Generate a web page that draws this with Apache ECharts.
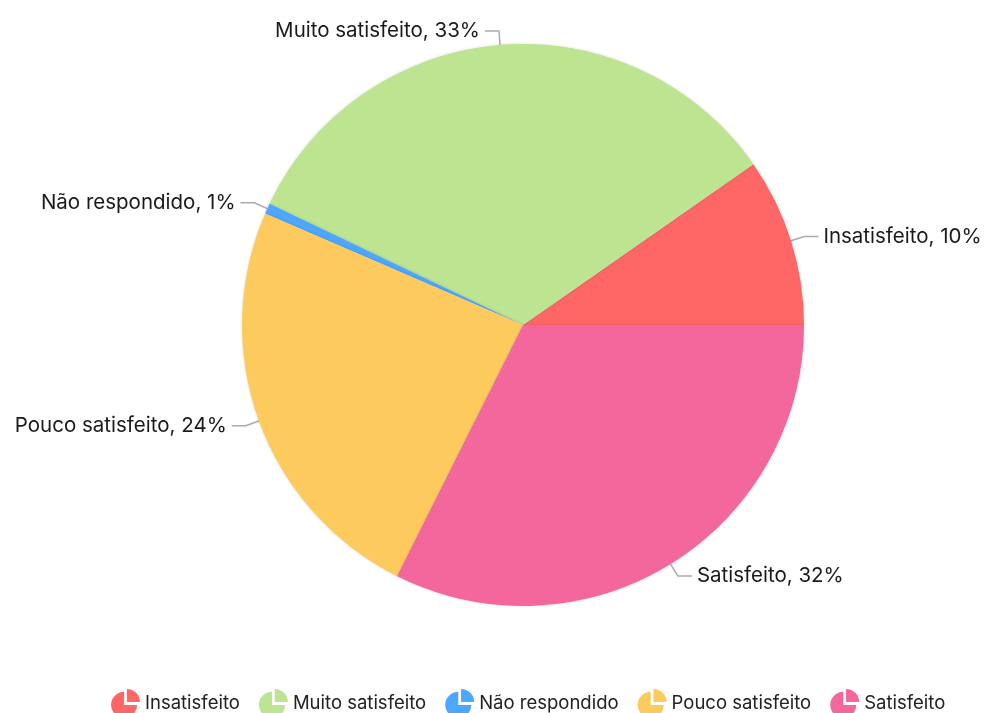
<!DOCTYPE html>
<html>
<head>
<meta charset="utf-8">
<script src="https://cdn.jsdelivr.net/npm/echarts@6/dist/echarts.min.js"></script>
<style>
  html, body { margin: 0; padding: 0; background: #fff; }
  #chart { width: 994px; height: 713px; }
</style>
</head>
<body>
<div id="chart"></div>
<script>
var categories = ['Insatisfeito', 'Muito satisfeito', 'Não respondido', 'Pouco satisfeito', 'Satisfeito'];
var values = [9.7, 33.2, 0.6, 24.1, 32.4];
var colors = ['#ff6666', '#bde490', '#4da6ff', '#fdcb5d', '#f4679d'];

var pieIcon = 'path://M14 18 L14 4 A14 14 0 1 0 28 18 Z M17 15 L17 1 A14 14 0 0 1 31 15 Z';

var myChart = echarts.init(document.getElementById('chart'));
var option = {
    color: colors,
    textStyle: { fontFamily: 'Inter' },
    legend: {
        data: categories,
        left: 106,
        top: 684,
        icon: pieIcon,
        itemWidth: 29,
        itemHeight: 29,
        itemGap: 19,
        textStyle: { fontSize: 18.5, color: '#222' }
    },
    series: [{
        name: 'Satisfação',
        type: 'pie',
        center: [523, 325],
        radius: [0, 281],
        startAngle: 0,
        clockwise: false,
        percentPrecision: 0,
        avoidLabelOverlap: true,
        label: {
            formatter: '{b}, {d}%',
            fontSize: 20.5,
            color: '#1a1a1a',
            overflow: 'none'
        },
        labelLine: {
            length: 14,
            length2: 14,
            lineStyle: { color: '#aaa', width: 1.5 }
        },
        itemStyle: {
            shadowBlur: 3,
            shadowColor: 'rgba(0,0,0,0.15)'
        },
        data: categories.map(function (c, i) {
            return { name: c, value: values[i] };
        })
    }]
};
myChart.setOption(option, true);
</script>
</body>
</html>
